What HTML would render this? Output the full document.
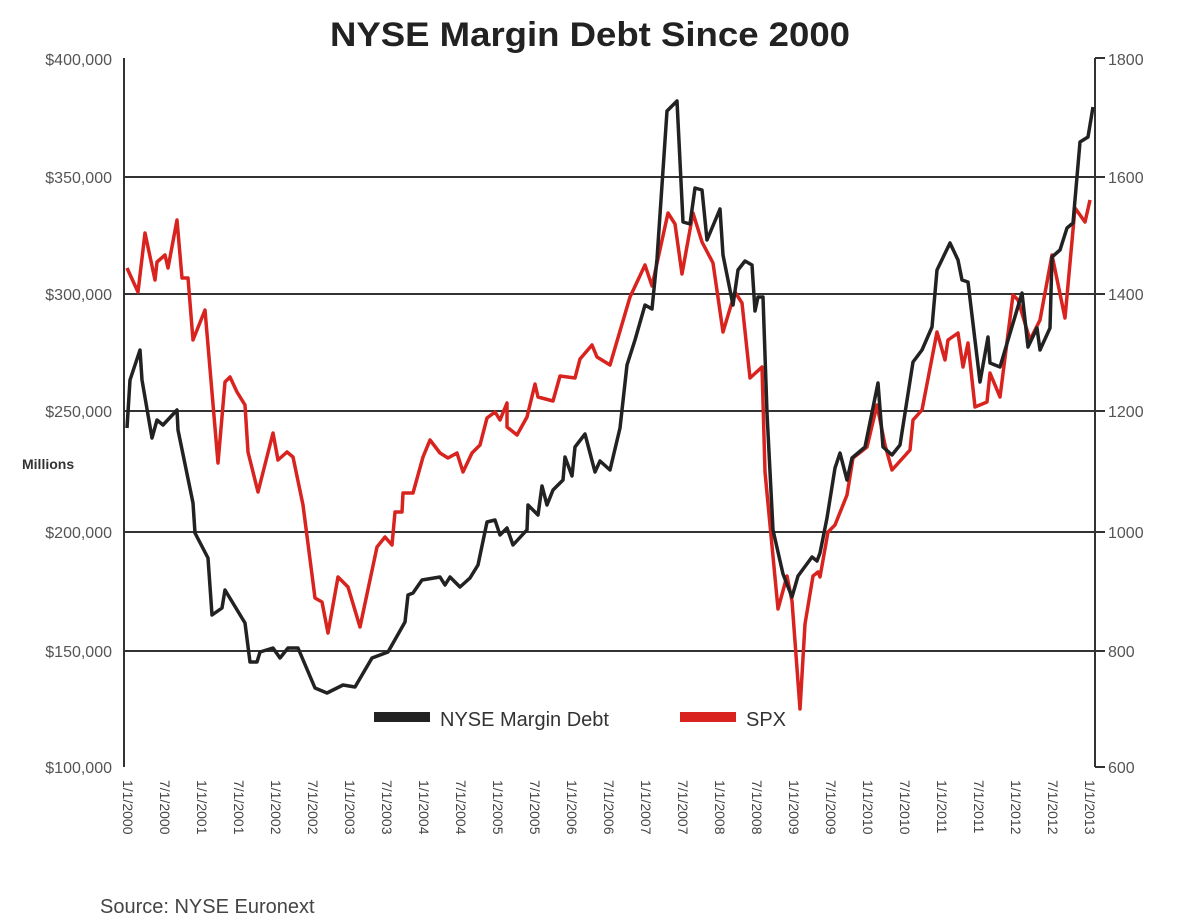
<!DOCTYPE html>
<html><head><meta charset="utf-8"><style>
body{margin:0;background:#fff;}
svg{display:block;font-family:"Liberation Sans",sans-serif;}
</style></head><body>
<svg width="1200" height="919" viewBox="0 0 1200 919">
<text x="590" y="46" text-anchor="middle" font-size="34" font-weight="bold" fill="#222" textLength="520" lengthAdjust="spacingAndGlyphs">NYSE Margin Debt Since 2000</text>
<g stroke="#333" stroke-width="2">
<line x1="124" y1="58" x2="124" y2="767"/>
<line x1="1095" y1="58" x2="1095" y2="767"/>
<line x1="124" y1="177" x2="1105" y2="177"/>
<line x1="124" y1="294" x2="1105" y2="294"/>
<line x1="124" y1="411" x2="1105" y2="411"/>
<line x1="124" y1="532" x2="1105" y2="532"/>
<line x1="124" y1="651" x2="1105" y2="651"/>
<line x1="1095" y1="58" x2="1105" y2="58"/>
<line x1="1095" y1="767" x2="1105" y2="767"/>
</g>
<g font-size="16" fill="#555" text-anchor="end">
<text x="112" y="65">$400,000</text>
<text x="112" y="183">$350,000</text>
<text x="112" y="300">$300,000</text>
<text x="112" y="417">$250,000</text>
<text x="112" y="538">$200,000</text>
<text x="112" y="657">$150,000</text>
<text x="112" y="773">$100,000</text>
</g>
<text x="22" y="469" font-size="14" font-weight="bold" fill="#333">Millions</text>
<g font-size="16" fill="#555">
<text x="1108" y="65">1800</text>
<text x="1108" y="183">1600</text>
<text x="1108" y="300">1400</text>
<text x="1108" y="417">1200</text>
<text x="1108" y="538">1000</text>
<text x="1108" y="657">800</text>
<text x="1108" y="773">600</text>
</g>
<polyline fill="none" stroke="#d9231f" stroke-width="3.5" stroke-linejoin="round" points="127,268 138,292 145,233 155,280 157,262 165,255 168,268 177,220 182,278 188,278 193,340 205,310 218,463 225,382 230,377 237,392 245,405 248,452 258,492 273,433 278,460 287,452 293,457 303,505 315,598 322,602 328,633 338,577 348,587 360,627 377,547 385,537 392,545 395,512 402,512 403,493 413,493 423,457 430,440 440,453 448,458 457,453 463,472 472,453 480,445 487,418 495,412 500,420 507,403 507,427 517,435 527,417 535,384 538,397 553,401 560,376 575,378 580,359 592,345 597,357 610,365 630,297 645,265 652,286 668,213 675,224 682,274 693,213 702,242 713,263 723,332 735,292 742,303 750,378 762,367 765,472 778,609 787,576 792,601 800,709 805,624 813,576 818,572 820,577 828,532 835,525 847,495 853,458 867,447 877,405 885,445 892,470 910,450 913,420 922,410 937,332 945,360 948,340 958,333 963,367 968,343 975,407 987,402 990,373 1000,397 1013,295 1018,300 1030,340 1040,320 1052,255 1065,318 1075,208 1085,222 1090,200"/>
<polyline fill="none" stroke="#222" stroke-width="3.5" stroke-linejoin="round" points="127,428 130,380 140,350 142,380 152,438 157,420 163,425 177,410 178,430 193,503 195,533 208,558 212,615 222,608 225,590 245,623 250,662 257,662 260,652 273,648 280,658 288,648 298,648 315,688 327,693 343,685 355,687 372,658 388,652 405,622 408,595 413,593 422,580 440,577 445,585 450,577 460,587 470,578 478,565 487,522 495,520 500,535 507,528 513,545 525,532 527,530 528,505 538,515 542,486 547,505 553,490 563,480 565,457 572,476 575,447 585,434 595,472 600,461 610,470 620,428 627,365 635,340 645,305 652,309 657,259 667,111 677,101 683,222 690,224 695,188 702,190 707,240 720,209 723,255 733,305 738,270 745,261 752,265 755,311 758,297 763,297 767,413 773,530 783,574 792,597 798,576 812,557 817,561 820,553 827,518 835,468 840,453 847,480 852,458 865,447 878,383 883,447 892,455 900,445 913,362 922,350 932,327 937,270 950,243 958,260 962,280 968,282 980,382 988,337 990,363 1000,367 1022,293 1028,347 1037,328 1040,350 1050,328 1052,257 1060,250 1067,228 1073,223 1080,142 1088,137 1093,107"/>
<rect x="374" y="712" width="56" height="10" fill="#222"/>
<text x="440" y="726" font-size="20" fill="#333">NYSE Margin Debt</text>
<rect x="680" y="712" width="56" height="10" fill="#d9231f"/>
<text x="746" y="726" font-size="20" fill="#333">SPX</text>
<text x="100" y="913" font-size="20" fill="#444">Source: NYSE Euronext</text>
<g font-size="14" fill="#444">
<text transform="translate(123,780) rotate(90)">1/1/2000</text>
<text transform="translate(160,780) rotate(90)">7/1/2000</text>
<text transform="translate(197,780) rotate(90)">1/1/2001</text>
<text transform="translate(234,780) rotate(90)">7/1/2001</text>
<text transform="translate(271,780) rotate(90)">1/1/2002</text>
<text transform="translate(308,780) rotate(90)">7/1/2002</text>
<text transform="translate(345,780) rotate(90)">1/1/2003</text>
<text transform="translate(382,780) rotate(90)">7/1/2003</text>
<text transform="translate(419,780) rotate(90)">1/1/2004</text>
<text transform="translate(456,780) rotate(90)">7/1/2004</text>
<text transform="translate(493,780) rotate(90)">1/1/2005</text>
<text transform="translate(530,780) rotate(90)">7/1/2005</text>
<text transform="translate(567,780) rotate(90)">1/1/2006</text>
<text transform="translate(604,780) rotate(90)">7/1/2006</text>
<text transform="translate(641,780) rotate(90)">1/1/2007</text>
<text transform="translate(678,780) rotate(90)">7/1/2007</text>
<text transform="translate(715,780) rotate(90)">1/1/2008</text>
<text transform="translate(752,780) rotate(90)">7/1/2008</text>
<text transform="translate(789,780) rotate(90)">1/1/2009</text>
<text transform="translate(826,780) rotate(90)">7/1/2009</text>
<text transform="translate(863,780) rotate(90)">1/1/2010</text>
<text transform="translate(900,780) rotate(90)">7/1/2010</text>
<text transform="translate(937,780) rotate(90)">1/1/2011</text>
<text transform="translate(974,780) rotate(90)">7/1/2011</text>
<text transform="translate(1011,780) rotate(90)">1/1/2012</text>
<text transform="translate(1048,780) rotate(90)">7/1/2012</text>
<text transform="translate(1085,780) rotate(90)">1/1/2013</text>
</g>
</svg>
</body></html>
